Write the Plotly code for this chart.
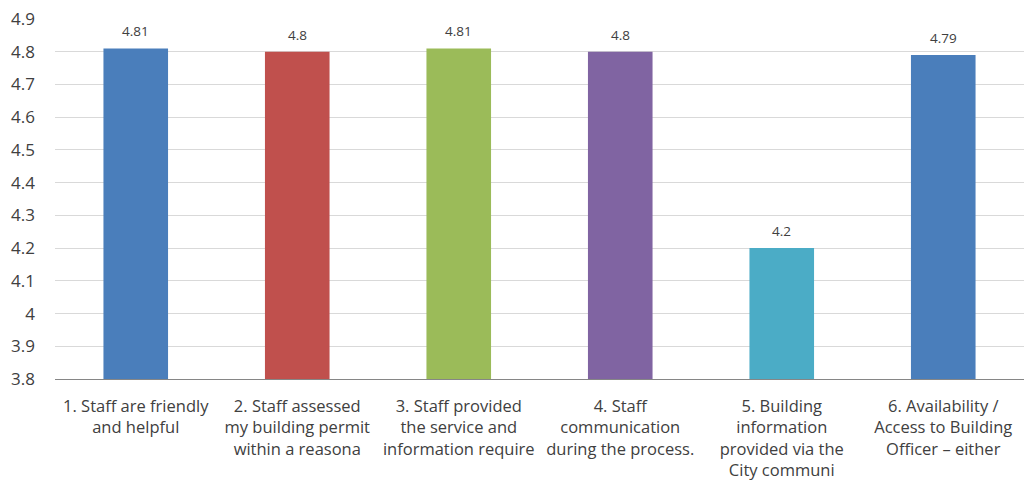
import plotly.graph_objects as go

categories = [
    "1. Staff are friendly<br>and helpful",
    "2. Staff assessed<br>my building permit<br>within a reasona",
    "3. Staff provided<br>the service and<br>information require",
    "4. Staff<br>communication<br>during the process.",
    "5. Building<br>information<br>provided via the<br>City communi",
    "6. Availability /<br>Access to Building<br>Officer \u2013 either",
]
scores = [4.81, 4.8, 4.81, 4.8, 4.2, 4.79]
bar_colors = ["#4A7EBB", "#C0504D", "#9BBB59", "#8064A2", "#4BACC6", "#4A7EBB"]
y_ticks = [3.8, 3.9, 4.0, 4.1, 4.2, 4.3, 4.4, 4.5, 4.6, 4.7, 4.8, 4.9]
y_tick_text = ["3.8", "3.9", "4", "4.1", "4.2", "4.3", "4.4", "4.5", "4.6", "4.7", "4.8", "4.9"]

FONT = "'Open Sans', sans-serif"
TEXT_COLOR = "#404040"

fig = go.Figure(
    go.Bar(
        x=categories,
        y=scores,
        marker=dict(color=bar_colors, line=dict(width=0)),
        width=0.4,
        hoverinfo="skip",
    )
)

# value labels above each bar
for cat, val in zip(categories, scores):
    fig.add_annotation(
        x=cat, y=val, text=f"{val:g}", showarrow=False,
        yanchor="bottom", yshift=6,
        font=dict(family=FONT, size=13.5, color=TEXT_COLOR),
    )

fig.update_layout(
    width=1024, height=486,
    margin=dict(l=55, r=0, t=19, b=107),
    paper_bgcolor="white", plot_bgcolor="white",
    showlegend=False,
    font=dict(family=FONT, color=TEXT_COLOR),
)
fig.update_xaxes(
    showgrid=False, showline=True, linecolor="#868686", linewidth=1,
    ticks="", tickfont=dict(size=16.5, color=TEXT_COLOR),
    ticklabelstandoff=12, tickangle=0,
)
fig.update_yaxes(
    range=[3.8, 4.9], tickvals=y_ticks, ticktext=y_tick_text,
    showgrid=True, gridcolor="#D9D9D9", gridwidth=1,
    zeroline=False, showline=False, ticks="",
    tickfont=dict(size=17, color=TEXT_COLOR), ticklabelstandoff=19,
)

fig.write_html("out.html")
